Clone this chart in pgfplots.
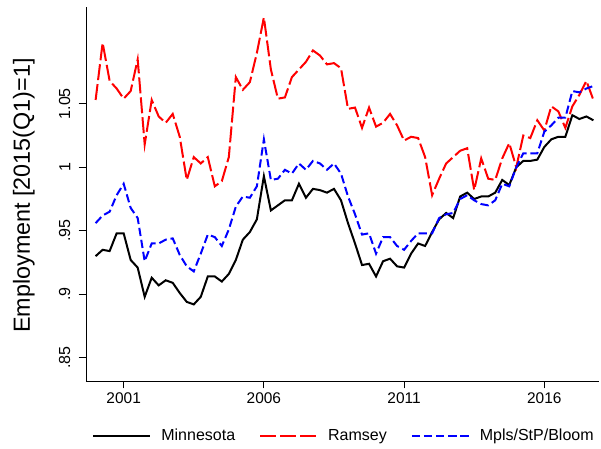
\documentclass[border=0pt]{standalone}
\usepackage{pgfplots}
\usepackage{pgfplotstable}
\usepackage{fontspec}
\setmainfont{Liberation Sans}
\pgfplotsset{compat=1.18}

% quarterly employment index, 2015Q1 = 1
\pgfplotstableread{
t       mn     ram    msp
2000.00 0.930  1.053  0.956
2000.25 0.935  1.098  0.962
2000.50 0.934  1.068  0.965
2000.75 0.948  1.062  0.978
2001.00 0.948  1.054  0.987
2001.25 0.927  1.060  0.968
2001.50 0.921  1.085  0.960
2001.75 0.898  1.018  0.926
2002.00 0.913  1.053  0.940
2002.25 0.907  1.040  0.940
2002.50 0.911  1.035  0.943
2002.75 0.909  1.042  0.944
2003.00 0.901  1.024  0.931
2003.25 0.894  0.990  0.922
2003.50 0.892  1.008  0.918
2003.75 0.898  1.003  0.932
2004.00 0.914  1.008  0.947
2004.25 0.914  0.985  0.945
2004.50 0.910  0.989  0.938
2004.75 0.916  1.008  0.951
2005.00 0.927  1.071  0.969
2005.25 0.943  1.061  0.977
2005.50 0.949  1.067  0.976
2005.75 0.959  1.090  0.985
2006.00 0.993  1.118  1.022
2006.25 0.966  1.077  0.990
2006.50 0.970  1.054  0.991
2006.75 0.974  1.055  0.998
2007.00 0.974  1.071  0.995
2007.25 0.987  1.077  1.003
2007.50 0.976  1.083  0.998
2007.75 0.983  1.092  1.005
2008.00 0.982  1.088  1.003
2008.25 0.980  1.081  0.998
2008.50 0.983  1.082  1.003
2008.75 0.974  1.078  0.995
2009.00 0.956  1.046  0.977
2009.25 0.940  1.047  0.963
2009.50 0.923  1.031  0.947
2009.75 0.924  1.047  0.948
2010.00 0.914  1.032  0.932
2010.25 0.926  1.035  0.945
2010.50 0.928  1.042  0.945
2010.75 0.922  1.033  0.938
2011.00 0.921  1.021  0.935
2011.25 0.932  1.024  0.942
2011.50 0.940  1.023  0.948
2011.75 0.938  1.008  0.948
2012.00 0.949  0.978  0.948
2012.25 0.959  0.991  0.960
2012.50 0.964  1.003  0.963
2012.75 0.960  1.008  0.964
2013.00 0.977  1.013  0.975
2013.25 0.980  1.015  0.978
2013.50 0.975  0.982  0.974
2013.75 0.977  1.007  0.971
2014.00 0.977  0.991  0.970
2014.25 0.980  0.990  0.974
2014.50 0.990  1.007  0.987
2014.75 0.986  1.019  0.985
2015.00 1.000  1.000  1.000
2015.25 1.005  1.025  1.011
2015.50 1.005  1.023  1.011
2015.75 1.006  1.037  1.011
2016.00 1.016  1.029  1.028
2016.25 1.022  1.048  1.033
2016.50 1.024  1.044  1.039
2016.75 1.024  1.031  1.039
2017.00 1.041  1.048  1.060
2017.25 1.038  1.057  1.059
2017.50 1.040  1.068  1.062
2017.75 1.037  1.053  1.064
}\emp

\begin{document}
\begin{tikzpicture}
\path[use as bounding box] (-64.5pt,-51pt) rectangle (386.25pt,285.75pt);
\begin{axis}[
    at={(0,0)}, anchor=south west,
    scale only axis,
    width=384.75pt, height=280.5pt,
    axis lines=left,
    axis line style={-, line width=0.6pt},
    xmin=1999.657, xmax=2017.95,
    ymin=0.8317, ymax=1.1262,
    xtick={2001,2006,2011,2016},
    xticklabels={2001,2006,2011,2016},
    ytick={0.85,0.9,0.95,1,1.05},
    yticklabels={.85,.9,.95,1,1.05},
    tick align=outside,
    major tick length=5.6pt,
    tick style={line width=0.6pt, black},
    xticklabel style={font=\fontsize{11.6}{14}\selectfont},
    yticklabel style={font=\fontsize{12}{14}\selectfont, rotate=90, anchor=south, inner ysep=6pt},
    ylabel={Employment [2015(Q1)=1]},
    ylabel style={font=\fontsize{17.5}{20}\selectfont, at={(axis description cs:-0.121,0.496)}, anchor=center, inner sep=0pt},
    legend columns=3,
    legend style={draw=none, fill=none, at={(axis description cs:0.501,-0.147)}, anchor=center,
        font=\fontsize{12}{14}\selectfont,
        /tikz/every odd column/.append style={column sep=7.5pt},
        /tikz/every even column/.append style={column sep=18pt},
        nodes={inner sep=0pt}},
    legend image code/.code={\draw[#1] (0pt,0pt) -- (42.75pt,0pt);},
]
\addplot[black, line width=1.5pt] table[x=t, y=mn] {\emp};
\addlegendentry{Minnesota}
\addplot[red, line width=1.5pt, dash pattern=on 12pt off 3pt] table[x=t, y=ram] {\emp};
\addlegendentry{Ramsey}
\addplot[blue, line width=1.5pt, dash pattern=on 6.2pt off 2.9pt] table[x=t, y=msp] {\emp};
\addlegendentry{Mpls/StP/Bloom}
\end{axis}
\end{tikzpicture}
\end{document}
